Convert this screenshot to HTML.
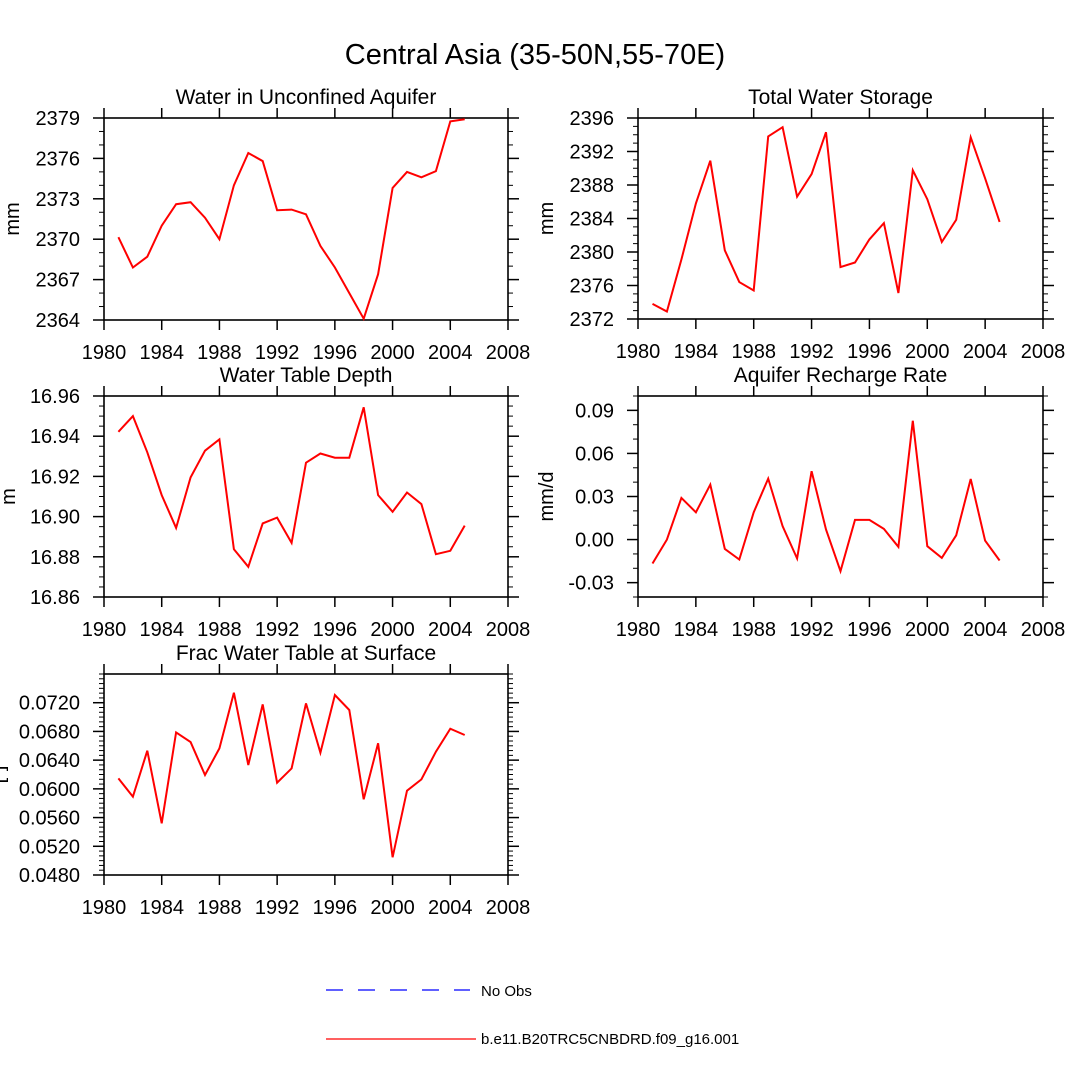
<!DOCTYPE html>
<html><head><meta charset="utf-8"><style>
html,body{margin:0;padding:0;background:#fff;}
svg{display:block;font-family:"Liberation Sans",sans-serif;}
</style></head><body>
<svg id="fig" width="1070" height="1068" viewBox="0 0 1070 1068">
<text x="535" y="64" text-anchor="middle" font-size="29">Central Asia (35-50N,55-70E)</text>
<g>
<line x1="326" y1="990" x2="470" y2="990" stroke="#0000ff" stroke-width="1.2" stroke-dasharray="17,15"/>
<text x="481" y="996" font-size="15">No Obs</text>
<line x1="326" y1="1039" x2="476" y2="1039" stroke="#ff0000" stroke-width="1.2"/>
<text x="481" y="1044" font-size="15">b.e11.B20TRC5CNBDRD.f09_g16.001</text>
</g>
</svg>
<script>
const years = [1981,1982,1983,1984,1985,1986,1987,1988,1989,1990,1991,1992,1993,1994,1995,1996,1997,1998,1999,2000,2001,2002,2003,2004,2005];
const xTicks = [1980,1984,1988,1992,1996,2000,2004,2008];
const aquiferValues = [2370.15,2367.9,2368.7,2371.0,2372.6,2372.75,2371.6,2370.0,2374.0,2376.4,2375.8,2372.15,2372.2,2371.85,2369.5,2367.9,2366.0,2364.1,2367.4,2373.8,2375.0,2374.6,2375.05,2378.75,2378.9];
const storageValues = [2373.8,2372.9,2379.1,2385.8,2390.9,2380.2,2376.4,2375.4,2393.8,2394.9,2386.6,2389.3,2394.3,2378.2,2378.75,2381.5,2383.45,2375.1,2389.75,2386.3,2381.2,2383.85,2393.7,2388.8,2383.6];
const depthValues = [16.9422,16.950,16.932,16.9107,16.8944,16.9195,16.9328,16.9384,16.8838,16.875,16.8966,16.8995,16.8869,16.9268,16.9314,16.9293,16.9293,16.9544,16.9107,16.9024,16.912,16.9062,16.8813,16.883,16.8955];
const rechargeValues = [-0.0167,0.0,0.029,0.019,0.0383,-0.0065,-0.0139,0.019,0.0425,0.0093,-0.0132,0.0476,0.007,-0.022,0.0137,0.0137,0.0074,-0.0051,0.0828,-0.0046,-0.0128,0.003,0.0422,-0.0007,-0.0146];
const fracValues = [0.06146,0.05891,0.06532,0.0552,0.06787,0.06652,0.06193,0.06564,0.07339,0.06332,0.07177,0.06086,0.06285,0.07191,0.06504,0.07307,0.07098,0.05854,0.06634,0.05046,0.05974,0.06132,0.06518,0.06838,0.0675];
const aquiferTicks = ["2364","2367","2370","2373","2376","2379"];
const storageTicks = ["2372","2376","2380","2384","2388","2392","2396"];
const depthTicks = ["16.86","16.88","16.90","16.92","16.94","16.96"];
const rechargeTicks = ["-0.03","0.00","0.03","0.06","0.09"];
const fracTicks = ["0.0480","0.0520","0.0560","0.0600","0.0640","0.0680","0.0720"];

const NS="http://www.w3.org/2000/svg";
const svg=document.getElementById('fig');
function mk(tag,attrs,parent){const e=document.createElementNS(NS,tag);for(const k in attrs)e.setAttribute(k,attrs[k]);(parent||svg).appendChild(e);return e;}

function panel(o){
  const g=mk('g',{});
  
  
  const L=o.x0,R=o.x1,T=o.y0,B=o.y1;
  const xs=v=>L+(v-1980)/(2008-1980)*(R-L);
  const ys=v=>B-(v-o.ymin)/(o.ymax-o.ymin)*(B-T);
  const t=mk('text',{x:(L+R)/2,y:T-14,'text-anchor':'middle','font-size':21},g);t.textContent=o.title;
  
  
  const yl=mk('text',{x:o.ylx,y:(T+B)/2,'text-anchor':'middle','font-size':20,transform:`rotate(-90 ${o.ylx} ${(T+B)/2})`},g);yl.textContent=o.ylabel;
  
  
  const fr=mk('rect',{x:L,y:T,width:R-L,height:B-T,fill:'none',stroke:'#000','stroke-width':1.6},g);
  
  
  xTicks.forEach(yr=>{
    const x=xs(yr);
    mk('line',{x1:x,y1:B,x2:x,y2:B+10,stroke:'#000','stroke-width':1.5},g);
    mk('line',{x1:x,y1:T,x2:x,y2:T-10,stroke:'#000','stroke-width':1.5},g);
    const tl=mk('text',{x:x,y:B+39,'text-anchor':'middle','font-size':20},g);tl.textContent=yr;
    
    
  });
  const majors=o.ticks.map(Number);
  const step=majors[1]-majors[0];
  const mstep=step/o.sub;
  for(let v=o.ymin;v<=o.ymax+1e-9;v+=mstep){
    const y=ys(v);
    const isMaj=majors.some(m=>Math.abs(m-v)<mstep*0.1);
    const len=isMaj?11:5;
    mk('line',{x1:L-len,y1:y,x2:L,y2:y,stroke:'#000','stroke-width':isMaj?1.5:1},g);
    mk('line',{x1:R,y1:y,x2:R+len,y2:y,stroke:'#000','stroke-width':isMaj?1.5:1},g);
  }
  o.ticks.forEach(s=>{
    const y=ys(Number(s));
    const tl=mk('text',{x:L-24,y:y+7,'text-anchor':'end','font-size':20},g);tl.textContent=s;
    
    
  });
  const pts=years.map((yr,i)=>xs(yr).toFixed(1)+','+ys(o.values[i]).toFixed(1)).join(' ');
  const pl=mk('polyline',{points:pts,fill:'none',stroke:'#ff0000','stroke-width':2,'stroke-linejoin':'miter'},g);
  
  
}
panel({name:'panel-water-in-unconfined-aquifer',title:'Water in Unconfined Aquifer',ylabel:'mm',ylx:19,x0:104,x1:508,y0:118,y1:320,ymin:2364,ymax:2379,ticks:aquiferTicks,sub:3,values:aquiferValues});
panel({name:'panel-total-water-storage',title:'Total Water Storage',ylabel:'mm',ylx:553,x0:638,x1:1043,y0:118,y1:319,ymin:2372,ymax:2396,ticks:storageTicks,sub:4,values:storageValues});
panel({name:'panel-water-table-depth',title:'Water Table Depth',ylabel:'m',ylx:15,x0:104,x1:508,y0:396,y1:597,ymin:16.86,ymax:16.96,ticks:depthTicks,sub:4,values:depthValues});
panel({name:'panel-aquifer-recharge-rate',title:'Aquifer Recharge Rate',ylabel:'mm/d',ylx:553,x0:638,x1:1043,y0:396,y1:597,ymin:-0.04,ymax:0.10,ticks:rechargeTicks,sub:3,values:rechargeValues});
panel({name:'panel-frac-water-table-at-surface',title:'Frac Water Table at Surface',ylabel:'[-]',ylx:4,x0:104,x1:508,y0:674,y1:875,ymin:0.048,ymax:0.076,ticks:fracTicks,sub:6,values:fracValues});
</script>
</body></html>
